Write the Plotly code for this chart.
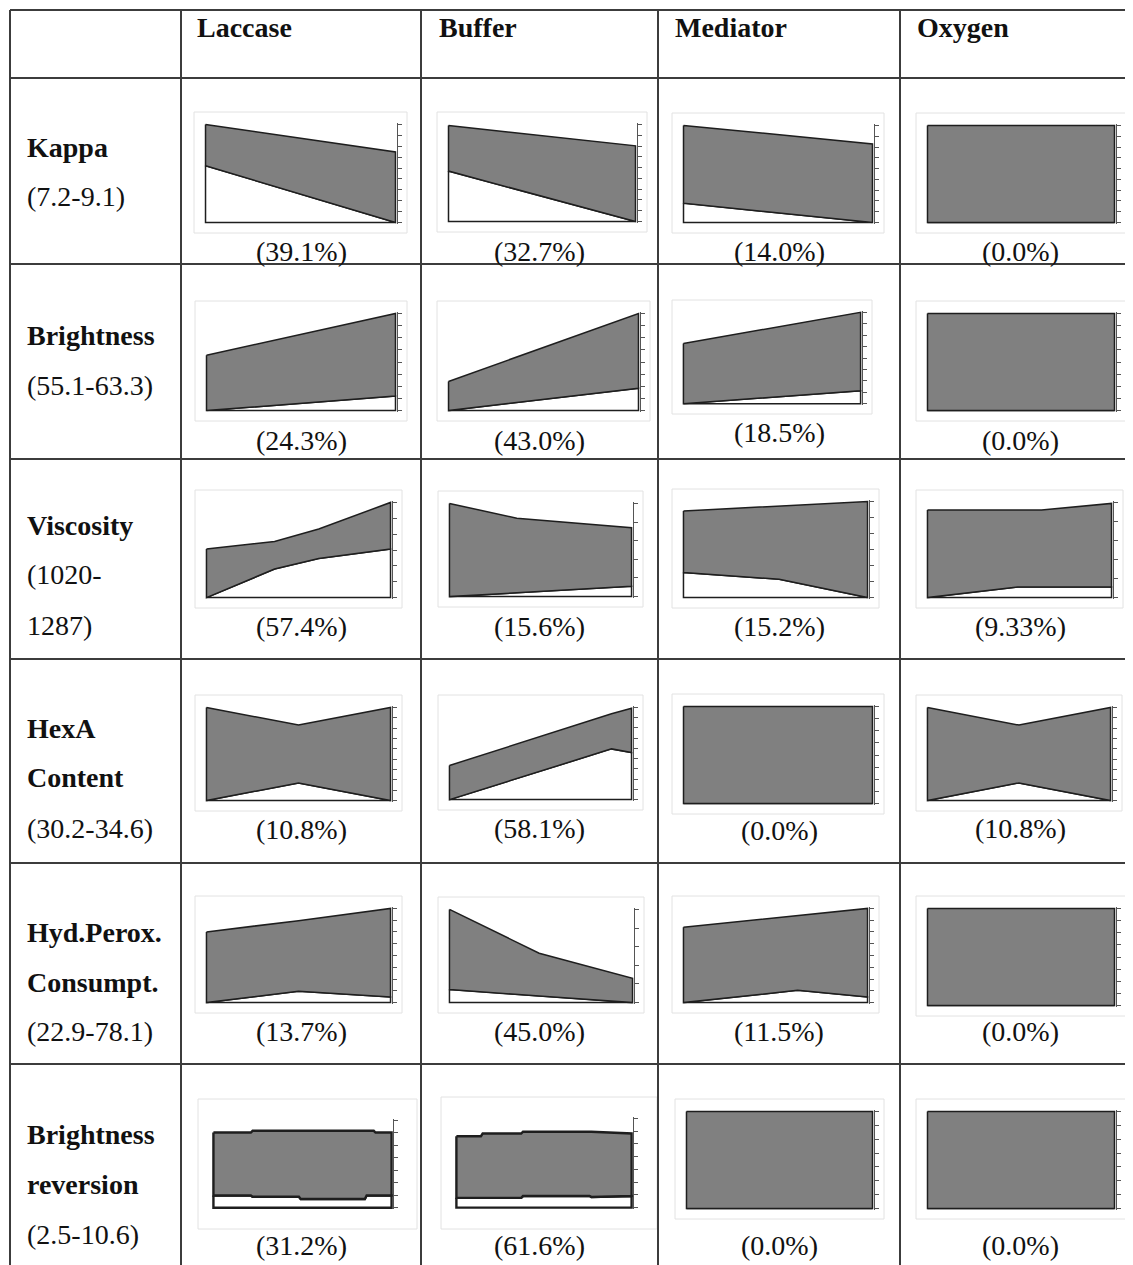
import plotly.graph_objects as go

# the page body has an 8px margin, so the figure is drawn at (8, 8)
OFF = 8
W, H = 1133 - OFF, 1265 - OFF

# ---------------- DATA ----------------
columns = ["Laccase", "Buffer", "Mediator", "Oxygen"]
row_names = [["Kappa"], ["Brightness"], ["Viscosity"], ["HexA", "Content"],
             ["Hyd.Perox.", "Consumpt."], ["Brightness", "reversion"]]
row_ranges = [["(7.2-9.1)"], ["(55.1-63.3)"], ["(1020-", "1287)"], ["(30.2-34.6)"],
              ["(22.9-78.1)"], ["(2.5-10.6)"]]
percent_labels = [
    ["(39.1%)", "(32.7%)", "(14.0%)", "(0.0%)"],
    ["(24.3%)", "(43.0%)", "(18.5%)", "(0.0%)"],
    ["(57.4%)", "(15.6%)", "(15.2%)", "(9.33%)"],
    ["(10.8%)", "(58.1%)", "(0.0%)", "(10.8%)"],
    ["(13.7%)", "(45.0%)", "(11.5%)", "(0.0%)"],
    ["(31.2%)", "(61.6%)", "(0.0%)", "(0.0%)"],
]

# relative position along factor range (0..1) and bounds as % of axis height
kappa_x = [[0, 1], [0, 1], [0, 1], [0, 1]]
kappa_lower = [[58, 0], [52, 0], [20, 0], [0, 0]]
kappa_upper = [[100, 72], [99, 78], [100, 81], [100, 100]]

bright_x = [[0, 1], [0, 1], [0, 1], [0, 1]]
bright_lower = [[0, 15], [0, 23], [0, 14], [0, 0]]
bright_upper = [[57, 100], [30, 100], [66, 100], [100, 100]]

visc_x = [[0, 0.37, 0.61, 1], [0, 0.37, 1], [0, 0.52, 1], [0, 0.49, 0.62, 1]]
visc_lower = [[0, 30, 41, 51], [0, 4, 11], [26, 19, 0], [0, 11, 11, 11]]
visc_upper = [[51, 59, 72, 100], [100, 84, 74], [90, 95, 100], [92, 92, 92, 99]]

hexa_x = [[0, 0.5, 1], [0, 0.89, 1], [0, 1], [0, 0.5, 1]]
hexa_lower = [[0, 19, 0], [0, 55, 51], [0, 0], [0, 19, 0]]
hexa_upper = [[100, 81, 100], [37, 93, 99], [100, 100], [100, 81, 100]]

hyd_x = [[0, 0.5, 1], [0, 0.49, 1], [0, 0.62, 1], [0, 1]]
hyd_lower = [[0, 12, 6], [14, 7, 0], [0, 13, 6], [0, 0]]
hyd_upper = [[75, 87, 100], [100, 53, 26], [80, 92, 100], [100, 100]]

rev_x = [[0, 0.21, 0.22, 0.48, 0.49, 0.85, 0.86, 0.90, 0.91, 1],
         [0, 0.14, 0.15, 0.37, 0.38, 0.76, 0.77, 1],
         [0, 1], [0, 1]]
rev_lower = [[14, 14, 12.5, 12.5, 10, 10, 14, 14, 14, 14],
             [11, 11, 11, 11, 13, 13, 12, 13],
             [0, 0], [0, 0]]
rev_upper = [[86, 86, 88, 88, 88, 88, 88, 88, 86, 86],
             [80, 80, 83, 83, 85, 85, 85, 83],
             [100, 100], [100, 100]]

series_x = [kappa_x, bright_x, visc_x, hexa_x, hyd_x, rev_x]
series_lower = [kappa_lower, bright_lower, visc_lower, hexa_lower, hyd_lower, rev_lower]
series_upper = [kappa_upper, bright_upper, visc_upper, hexa_upper, hyd_upper, rev_upper]

# ---------------- LAYOUT GEOMETRY (screen pixels) ----------------
col_lines = [10, 181, 421, 658, 900]
row_lines = [10, 78, 264, 459, 659, 863, 1064]
col_centers = [301, 539, 779, 1020]

# plot areas: (x0, x1, ytop, ybase)
plot_boxes = [
    [(204, 397, 123, 224), (447, 637, 123, 223), (682, 874, 124, 224), (926, 1116, 124, 224)],
    [(205, 397, 312, 412), (447, 640, 312, 412), (682, 862, 311, 405), (926, 1116, 312, 412)],
    [(205, 392, 501, 599), (448, 633, 502, 598), (682, 869, 500, 599), (926, 1113, 501, 599)],
    [(205, 392, 706, 802), (448, 633, 706, 801), (682, 874, 705, 805), (926, 1112, 706, 802)],
    [(205, 392, 907, 1004), (448, 634, 908, 1004), (682, 869, 907, 1004), (926, 1116, 907, 1007)],
    [(212, 393, 1119, 1209), (455, 633, 1117, 1209), (685, 874, 1110, 1210), (926, 1116, 1110, 1210)],
]
tick_counts = [[9, 9, 9, 9], [8, 8, 8, 8], [6, 5, 6, 5], [9, 9, 8, 9], [8, 5, 8, 8], [7, 7, 7, 7]]
pct_y = [[251, 251, 251, 251], [440, 440, 432, 440], [626, 626, 626, 626],
         [829, 828, 830, 828], [1031, 1031, 1031, 1031], [1245, 1245, 1245, 1245]]
name_y = [[148], [336], [525], [728, 778], [932, 982], [1134, 1184]]
range_y = [[196], [385], [575, 625], [828], [1031], [1234]]

FONT = "Liberation Serif, Times New Roman, serif"
FS = 28
GRAY = "#808080"
EDGE = "#1e1e1e"


def px(x):
    return (x - OFF) / W


def py(y):
    return 1 - (y - OFF) / H


fig = go.Figure()
layout_axes = {}
shapes = []
annotations = []

k = 0
for r in range(6):
    for c in range(4):
        k += 1
        x0, x1, yt, yb = plot_boxes[r][c]
        xs = series_x[r][c]
        lo = series_lower[r][c]
        up = series_upper[r][c]
        xa = "x" if k == 1 else f"x{k}"
        ya = "y" if k == 1 else f"y{k}"
        lw = 2.4 if (r == 5 and c < 2) else 1.5
        # white region under lower bound
        fig.add_trace(go.Scatter(
            x=list(xs) + [xs[-1], xs[0], xs[0]],
            y=list(lo) + [0, 0, lo[0]],
            mode="lines", fill="toself", fillcolor="white",
            line=dict(color=EDGE, width=lw), xaxis=xa, yaxis=ya,
            hoverinfo="skip", showlegend=False))
        # gray band between bounds
        fig.add_trace(go.Scatter(
            x=list(xs) + list(xs[::-1]) + [xs[0]],
            y=list(up) + list(lo[::-1]) + [up[0]],
            mode="lines", fill="toself", fillcolor=GRAY,
            line=dict(color=EDGE, width=lw), xaxis=xa, yaxis=ya,
            hoverinfo="skip", showlegend=False))
        xkey = "xaxis" if k == 1 else f"xaxis{k}"
        ykey = "yaxis" if k == 1 else f"yaxis{k}"
        layout_axes[xkey] = dict(domain=[px(x0), px(x1)], range=[-0.008, 1.008],
                                 visible=False, anchor=ya, fixedrange=True)
        layout_axes[ykey] = dict(domain=[py(yb), py(yt)], range=[-1.5, 101.5],
                                 anchor=xa, side="right", showline=True,
                                 linecolor="#555", linewidth=1, ticks="outside",
                                 ticklen=4, tickcolor="#555", tickwidth=1,
                                 showticklabels=False, showgrid=False, zeroline=False,
                                 tick0=0, dtick=100 / tick_counts[r][c], fixedrange=True)
        # light frame around chart
        if r == 5 and c < 2:
            fx0, fx1, fy0, fy1 = x0 - 14, x1 + 24, yt - 20, yb + 20
        else:
            fx0, fx1, fy0, fy1 = x0 - 10, x1 + 10, yt - 11, yb + 9
        shapes.append(dict(type="rect", xref="paper", yref="paper",
                           x0=px(fx0), x1=px(fx1), y0=py(fy1), y1=py(fy0),
                           line=dict(color="#e2e2e2", width=1), layer="below"))
        annotations.append(dict(text=percent_labels[r][c], x=px(col_centers[c]),
                                y=py(pct_y[r][c]), xref="paper", yref="paper",
                                xanchor="center", yanchor="middle", showarrow=False,
                                font=dict(family=FONT, size=FS, color="#111")))

# table lines
for xv in col_lines:
    shapes.append(dict(type="line", xref="paper", yref="paper", x0=px(xv), x1=px(xv),
                       y0=py(row_lines[0]), y1=0, line=dict(color="#3c3c3c", width=2)))
for yv in row_lines:
    shapes.append(dict(type="line", xref="paper", yref="paper", x0=px(col_lines[0]), x1=1,
                       y0=py(yv), y1=py(yv), line=dict(color="#3c3c3c", width=2)))

# header text
header_x = [195, 437, 673, 915]
for c, name in enumerate(columns):
    annotations.append(dict(text=f"<b>{name}</b>", x=px(header_x[c]), y=py(28),
                            xref="paper", yref="paper", xanchor="left", yanchor="middle",
                            showarrow=False, font=dict(family=FONT, size=FS, color="#111")))

# row labels
for r in range(6):
    for t, yv in zip(row_names[r], name_y[r]):
        annotations.append(dict(text=f"<b>{t}</b>", x=px(25), y=py(yv), xref="paper",
                                yref="paper", xanchor="left", yanchor="middle",
                                showarrow=False, font=dict(family=FONT, size=FS, color="#111")))
    for t, yv in zip(row_ranges[r], range_y[r]):
        annotations.append(dict(text=t, x=px(25), y=py(yv), xref="paper",
                                yref="paper", xanchor="left", yanchor="middle",
                                showarrow=False, font=dict(family=FONT, size=FS, color="#111")))

fig.update_layout(
    width=W, height=H, margin=dict(l=0, r=0, t=0, b=0),
    paper_bgcolor="white", plot_bgcolor="rgba(0,0,0,0)",
    showlegend=False, hovermode=False,
    shapes=shapes, annotations=annotations, **layout_axes)

fig.write_html("out.html")
